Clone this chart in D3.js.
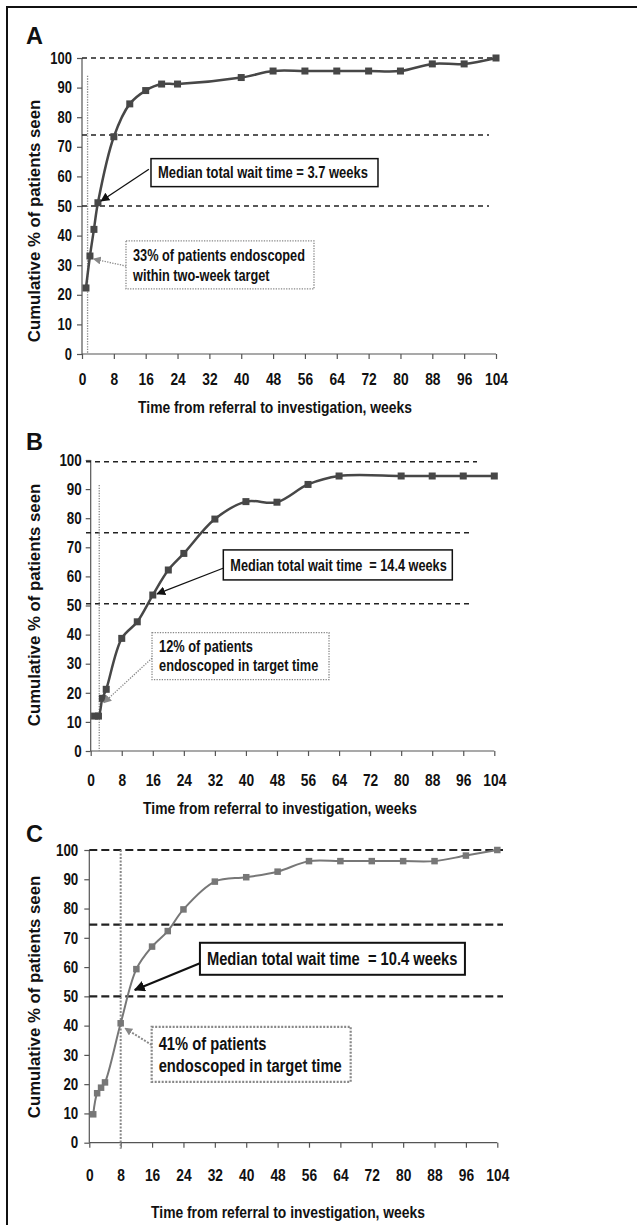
<!DOCTYPE html>
<html>
<head>
<meta charset="utf-8">
<script src="https://cdn.jsdelivr.net/npm/d3@7"></script>
<style>
  html, body { margin: 0; padding: 0; background: #fff; }
  svg { display: block; }
  text { font-family: "Liberation Sans", Arial, sans-serif; font-weight: bold; fill: #111; }
</style>
</head>
<body>
<div id="chart"></div>
<script>
// Shared ticks
const weekTicks = [0, 8, 16, 24, 32, 40, 48, 56, 64, 72, 80, 88, 96, 104];
const pctTicks = [0, 10, 20, 30, 40, 50, 60, 70, 80, 90, 100];

// Panel A
const weeksA = [1, 2, 3, 4, 8, 12, 16, 20, 24, 40, 48, 56, 64, 72, 80, 88, 96, 104];
const pctA = [22.3, 33.1, 42.1, 51.1, 73.4, 84.5, 89, 91.2, 91.2, 93.4, 95.6, 95.6, 95.6, 95.6, 95.6, 98, 98, 100];
const refLinesA = [100, 74, 50];
const targetWeekA = 1.4;

// Panel B
const weeksB = [1, 2, 3, 4, 8, 12, 16, 20, 24, 32, 40, 48, 56, 64, 80, 88, 96, 104];
const pctB = [12, 12, 18.1, 21.2, 38.7, 44.4, 53.6, 62.2, 67.9, 79.7, 85.7, 85.5, 91.6, 94.5, 94.5, 94.5, 94.5, 94.5];
const refLinesB = [99.4, 75, 50.6];
const targetWeekB = 2.2;

// Panel C
const weeksC = [1, 2, 3, 4, 8, 12, 16, 20, 24, 32, 40, 48, 56, 64, 72, 80, 88, 96, 104];
const pctC = [9.7, 16.9, 18.8, 20.6, 40.8, 59.3, 67, 72.3, 79.7, 89.2, 90.7, 92.6, 96.2, 96.2, 96.2, 96.2, 96.2, 98.1, 100];
const refLinesC = [100, 74.5, 50];
const targetWeekC = 8;

const medianTexts = ['Median total wait time = 3.7 weeks', 'Median total wait time  = 14.4 weeks', 'Median total wait time  = 10.4 weeks'];
const targetTexts = [
  ['33% of patients endoscoped', 'within two-week target'],
  ['12% of patients', 'endoscoped in target time'],
  ['41% of patients', 'endoscoped in target time']
];

const W = 641, H = 1225;

const svg = d3.select('#chart').append('svg')
  .attr('width', W).attr('height', H);

// no Arial Narrow here, so squeeze Liberation Sans Bold horizontally
function condense(sel, f) {
  sel.each(function () {
    const w = this.getComputedTextLength();
    d3.select(this)
      .attr('textLength', w * f)
      .attr('lengthAdjust', 'spacingAndGlyphs');
  });
}

const defs = svg.append('defs');
function marker(id, color, size) {
  defs.append('marker')
    .attr('id', id)
    .attr('viewBox', '0 0 10 10')
    .attr('refX', 9).attr('refY', 5)
    .attr('markerWidth', size).attr('markerHeight', size)
    .attr('markerUnits', 'userSpaceOnUse')
    .attr('orient', 'auto')
    .append('path')
    .attr('d', 'M0,0 L10,5 L0,10 z')
    .attr('fill', color);
}
marker('arrowBlack', '#111', 9);
marker('arrowGray', '#888', 8);
marker('arrowBlackBig', '#111', 11);

// Outer frame (left + top only visible in the figure)
svg.append('path')
  .attr('d', `M7,${H} L7,7 L637,7`)
  .attr('fill', 'none')
  .attr('stroke', '#111')
  .attr('stroke-width', 2);

const panels = [
  {
    label: 'A', labelY: 44, weeks: weeksA, pct: pctA, refs: refLinesA, target: targetWeekA, targetTop: 94,
    x0: 82, x1: 496, y0: 354, y1: 58, refEnd: [498, 489, 489], refStart: 82,
    lineColor: '#474747', lineWidth: 2.5, markerSize: 7,
    xTickFs: 17, yTickFs: 16, xPad: 13.5, yPad: 5,
    xTitleX: 275, xTitleY: 413, yTitleY: 221,
    dash: '5,4', dashWidth: 1.4,
    median: { left: 17.33, top: 66.0, w: 227, h: 28, fs: 16, f: 0.81, tail: [16.8, 62.4], tip: [4.8, 51.7], arrow: 'arrowBlack', aw: 1.3, bw: 1.5 },
    tgt: { left: 11.05, top: 38.2, w: 188, h: 48, fs: 16, f: 0.796, lh: 19.7, tail: [11.1, 29.7], tip: [2.9, 32.1], bw: 1.3 }
  },
  {
    label: 'B', labelY: 450, weeks: weeksB, pct: pctB, refs: refLinesB, target: targetWeekB, targetTop: 91.4,
    x0: 90.7, x1: 494.3, y0: 751, y1: 460, refEnd: [477, 473, 473], refStart: 86,
    lineColor: '#474747', lineWidth: 2.5, markerSize: 7,
    xTickFs: 17, yTickFs: 16.5, xPad: 18.3, yPad: 4,
    xTitleX: 280, xTitleY: 814, yTitleY: 605,
    dash: '5,4', dashWidth: 1.4,
    median: { left: 34.17, top: 69.1, w: 229, h: 30, fs: 16, f: 0.794, tail: [34.1, 62.8], tip: [17.1, 54], arrow: 'arrowBlack', aw: 1.3, bw: 1.5 },
    tgt: { left: 15.8, top: 40.65, w: 177, h: 47, fs: 16, f: 0.8, lh: 19, tail: [15.8, 31.9], tip: [3.4, 16.6], bw: 1.3 }
  },
  {
    label: 'C', labelY: 842, weeks: weeksC, pct: pctC, refs: refLinesC, target: targetWeekC, targetTop: 100,
    x0: 89.3, x1: 497.3, y0: 1142.7, y1: 850, refEnd: [503, 503, 503], refStart: 89.3,
    lineColor: '#777', lineWidth: 2, markerSize: 6.5,
    xTickFs: 17, yTickFs: 16.5, xPad: 20.8, yPad: 6,
    xTitleX: 288, xTitleY: 1217.5, yTitleY: 997,
    dash: '8,4', dashWidth: 2.2,
    median: { left: 28.2, top: 68.3, w: 265, h: 32, fs: 18, f: 0.817, tail: [28.2, 61.3], tip: [11.6, 52.2], arrow: 'arrowBlackBig', aw: 2.2, bw: 2 },
    tgt: { left: 15.9, top: 39.6, w: 199, h: 55, fs: 18, f: 0.817, lh: 21.7, tail: [15.9, 33.4], tip: [9.1, 39.1], bw: 2.2 }
  }
];

panels.forEach((p, i) => {
  const x = d3.scaleLinear().domain([0, 104]).range([p.x0, p.x1]);
  const y = d3.scaleLinear().domain([0, 100]).range([p.y0, p.y1]);
  const g = svg.append('g').attr('class', 'panel');
  const dotted = i === 2 ? '2,1.5' : '1.3,1.3';

  // Panel letter
  g.append('text')
    .attr('x', 26).attr('y', p.labelY)
    .style('font-size', '23.5px')
    .text(p.label);

  // Axes
  const yAxis = d3.axisLeft(y).tickValues(pctTicks).tickSize(5).tickSizeOuter(0).tickPadding(p.yPad);
  const xAxis = d3.axisBottom(x).tickValues(weekTicks).tickSize(5).tickSizeOuter(0).tickPadding(p.xPad);

  const ya = g.append('g').attr('transform', `translate(${p.x0},0)`).call(yAxis);
  const xa = g.append('g').attr('transform', `translate(0,${p.y0})`).call(xAxis);
  ya.selectAll('.tick text').style('font-size', p.yTickFs + 'px');
  xa.selectAll('.tick text').style('font-size', p.xTickFs + 'px');
  [ya, xa].forEach(a => {
    a.attr('font-family', null).attr('font-size', null);
    a.select('.domain').attr('stroke', '#555').attr('stroke-width', 1.2);
    a.selectAll('.tick line').attr('stroke', '#555').attr('stroke-width', 1.2);
    a.selectAll('.tick text').attr('fill', '#111').call(condense, 0.81);
  });
  xa.select('.domain').attr('d', `M${p.x0},0H${p.x1}`);
  ya.select('.domain').attr('d', `M0,${p.y0}V${p.y1}`);

  // Reference lines (100%, 75%, 50%)
  g.selectAll('.ref').data(p.refs).join('line')
    .attr('class', 'ref')
    .attr('x1', p.refStart)
    .attr('x2', (d, k) => p.refEnd[k])
    .attr('y1', d => y(d)).attr('y2', d => y(d))
    .attr('stroke', '#222')
    .attr('stroke-width', p.dashWidth)
    .attr('stroke-dasharray', p.dash);

  // Target time vertical dotted line
  g.append('line')
    .attr('x1', x(p.target)).attr('x2', x(p.target))
    .attr('y1', y(p.targetTop)).attr('y2', p.y0 + (i === 2 ? 6 : 0))
    .attr('stroke', '#888')
    .attr('stroke-width', i === 2 ? 2 : 1.3)
    .attr('stroke-dasharray', dotted);

  // Curve
  const pts = p.weeks.map((w, k) => [w, p.pct[k]]);
  const line = d3.line()
    .x(d => x(d[0]))
    .y(d => y(d[1]))
    .curve(d3.curveCatmullRom.alpha(0.5));
  g.append('path')
    .datum(pts)
    .attr('d', line)
    .attr('fill', 'none')
    .attr('stroke', p.lineColor)
    .attr('stroke-width', p.lineWidth);

  g.selectAll('.pt').data(pts).join('rect')
    .attr('class', 'pt')
    .attr('x', d => x(d[0]) - p.markerSize / 2)
    .attr('y', d => y(d[1]) - p.markerSize / 2)
    .attr('width', p.markerSize)
    .attr('height', p.markerSize)
    .attr('fill', p.lineColor);

  // Axis titles
  g.append('text')
    .attr('x', p.xTitleX).attr('y', p.xTitleY)
    .attr('text-anchor', 'middle')
    .style('font-size', '17px')
    .text('Time from referral to investigation, weeks')
    .call(condense, 0.815);

  g.append('text')
    .attr('transform', `translate(39.5,${p.yTitleY}) rotate(-90)`)
    .attr('text-anchor', 'middle')
    .style('font-size', '16.8px')
    .text('Cumulative % of patients seen');

  // Median annotation
  const m = p.median;
  const mx = x(m.left), my = y(m.top);
  g.append('rect')
    .attr('x', mx).attr('y', my).attr('width', m.w).attr('height', m.h)
    .attr('fill', '#fff').attr('stroke', '#111').attr('stroke-width', m.bw);
  g.append('text')
    .attr('x', mx + 7).attr('y', my + m.h / 2 + 0.36 * m.fs)
    .style('font-size', m.fs + 'px')
    .style('white-space', 'pre')
    .text(medianTexts[i])
    .call(condense, m.f);
  g.append('line')
    .attr('x1', x(m.tail[0])).attr('y1', y(m.tail[1]))
    .attr('x2', x(m.tip[0])).attr('y2', y(m.tip[1]))
    .attr('stroke', '#111').attr('stroke-width', m.aw)
    .attr('marker-end', `url(#${m.arrow})`);

  // Target annotation
  const t = p.tgt;
  const tx = x(t.left), ty = y(t.top);
  g.append('rect')
    .attr('x', tx).attr('y', ty).attr('width', t.w).attr('height', t.h)
    .attr('fill', '#fff').attr('stroke', '#888').attr('stroke-width', t.bw)
    .attr('stroke-dasharray', dotted);
  g.selectAll('.tgt-line').data(targetTexts[i]).join('text')
    .attr('class', 'tgt-line')
    .attr('x', tx + 7)
    .attr('y', (s, k) => ty + t.h / 2 + (k - 0.5) * t.lh + 0.36 * t.fs)
    .style('font-size', t.fs + 'px')
    .text(s => s)
    .call(condense, t.f);
  g.append('line')
    .attr('x1', x(t.tail[0])).attr('y1', y(t.tail[1]))
    .attr('x2', x(t.tip[0])).attr('y2', y(t.tip[1]))
    .attr('stroke', '#888').attr('stroke-width', i === 2 ? 2 : 1.3)
    .attr('stroke-dasharray', dotted)
    .attr('marker-end', 'url(#arrowGray)');
});
</script>
</body>
</html>
